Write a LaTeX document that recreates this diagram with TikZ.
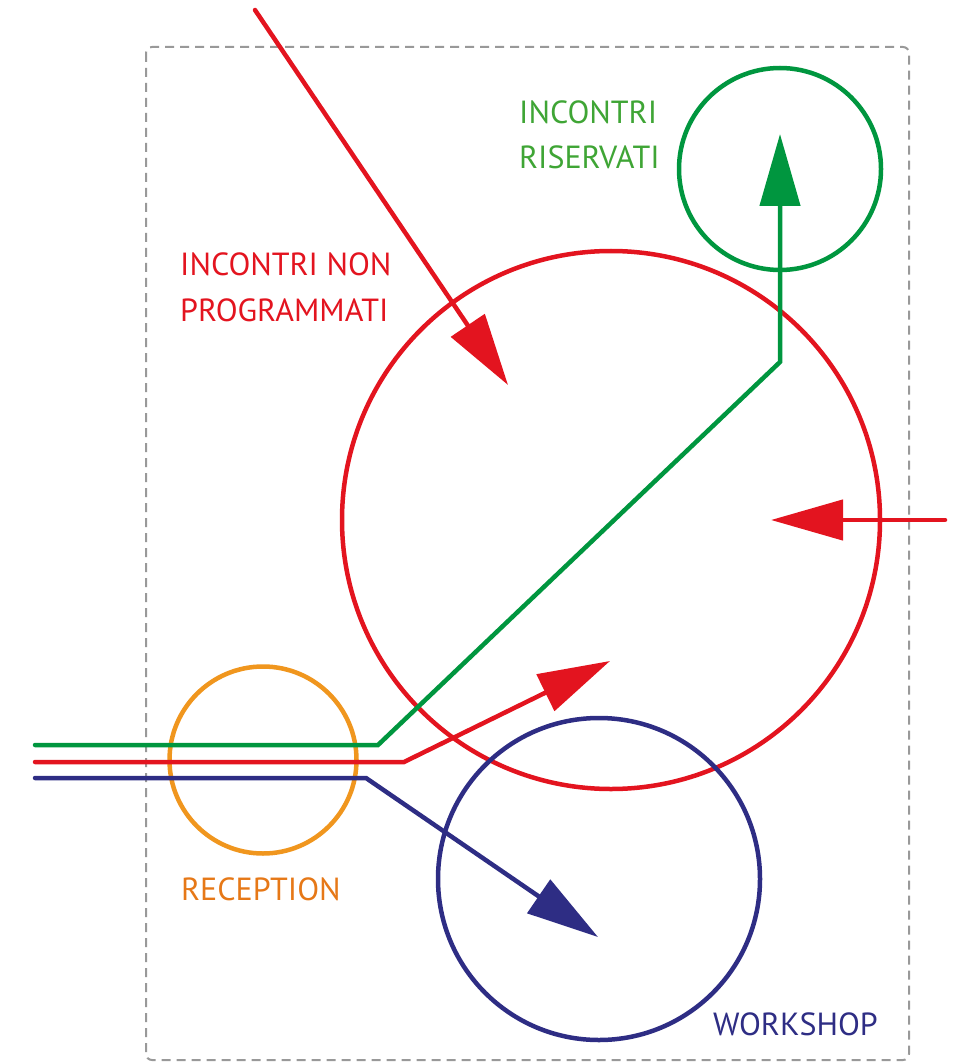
\documentclass[tikz,border=0pt]{standalone}
\usepackage{fontspec}
\setmainfont{PT Sans}
\usetikzlibrary{arrows.meta}
\definecolor{cred}{HTML}{E3141F}
\definecolor{cgreen}{HTML}{00963F}
\definecolor{tgreen}{HTML}{3FA535}
\definecolor{corange}{HTML}{F0961E}
\definecolor{torange}{HTML}{E67817}
\definecolor{cblue}{HTML}{2E2D84}
\definecolor{cgray}{HTML}{999999}
\begin{document}
\begin{tikzpicture}[x=1pt,y=-1pt,
  ring/.style={circle,draw,line width=4.5pt,inner sep=0pt},
  flow/.style={line width=4.5pt,line cap=round,line join=miter,-{Triangle[length=72pt,width=40pt]}},
  lab/.style={font=\fontsize{32}{46}\selectfont,anchor=base west,inner sep=0pt}]
\useasboundingbox (0,0) rectangle (966,1064);
\draw[cgray,line width=2pt,dash pattern=on 9pt off 6pt,rounded corners=6pt] (146,47) rectangle (909,1060);
\node[ring,cred,minimum size=538pt] (big) at (611,520) {};
\node[ring,cgreen,minimum size=202pt] (res) at (780,169) {};
\node[ring,corange,minimum size=187pt] (rec) at (263,760) {};
\node[ring,cblue,minimum size=322pt] (ws) at (599,879) {};
% coordinates
\coordinate (g0) at (35,745); \coordinate (g1) at (378,745); \coordinate (g2) at (780,362); \coordinate (g3) at (780,134);
\coordinate (r0) at (35,762); \coordinate (r1) at (404,762); \coordinate (r2) at (610,661);
\coordinate (b0) at (35,778); \coordinate (b1) at (366,778); \coordinate (b2) at (598,937);
\coordinate (t0) at (255,10); \coordinate (t1) at (508,385);
\coordinate (e0) at (945,520); \coordinate (e1) at (771,520);
\draw[flow,cgreen] (g0) -- (g1) -- (g2) -- (g3);
\draw[flow,cred] (r0) -- (r1) -- (r2);
\draw[flow,cblue] (b0) -- (b1) -- (b2);
\draw[flow,cred] (t0) -- (t1);
\draw[flow,cred] (e0) -- (e1);
\node[lab,text=tgreen] (lres1) at (519,124) {INCONTRI};
\node[lab,text=tgreen] (lres2) at (519,169) {RISERVATI};
\node[lab,text=cred] (lbig1) at (180,276) {INCONTRI NON};
\node[lab,text=cred] (lbig2) at (180,321) {PROGRAMMATI};
\node[lab,text=torange] (lrec) at (181,900) {RECEPTION};
\node[lab,text=cblue] (lws) at (713,1035) {WORKSHOP};
\end{tikzpicture}
\end{document}
